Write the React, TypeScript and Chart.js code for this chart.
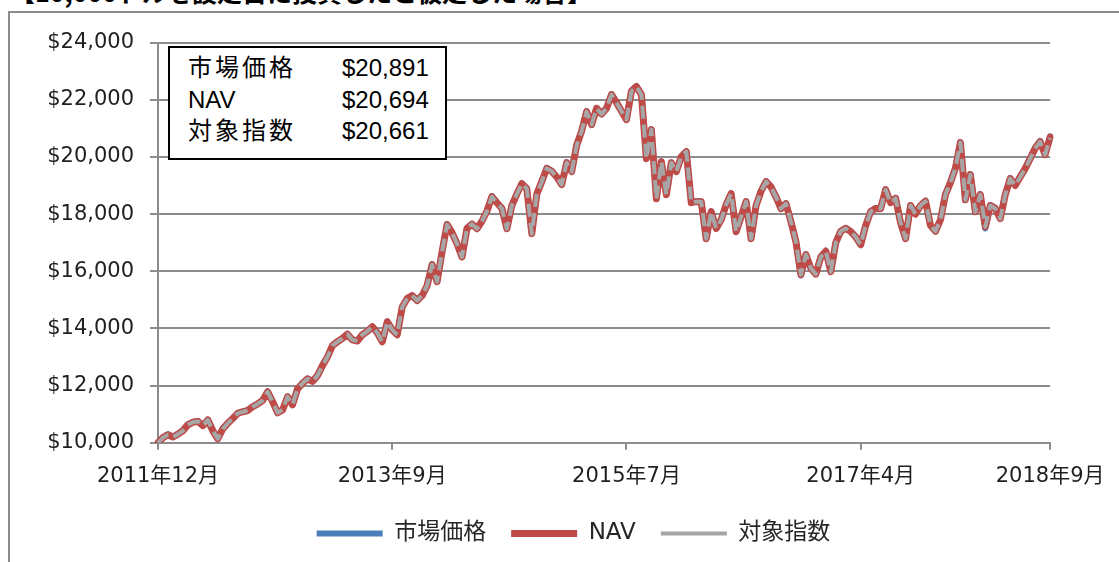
import { useEffect, useRef } from 'react';
import { Chart, registerables } from 'chart.js';

Chart.register(...registerables);

const seriesNames = ['市場価格', 'NAV', '対象指数'];
const finalValueLabels = ['$20,891', '$20,694', '$20,661'];
const titleText = '【10,000ドルを設定日に投資したと仮定した場合】';

const xTickIndex = [0, 47, 94, 141, 179];
const xTickLabels = ['2011年12月', '2013年9月', '2015年7月', '2017年4月', '2018年9月'];

const yMin = 10000;
const yMax = 24000;
const yStep = 2000;

const navValues = [
  10000, 10180, 10280, 10200, 10300, 10420, 10630, 10720, 10750, 10600,
  10800, 10420, 10140, 10490, 10680, 10850, 11030, 11085, 11130, 11260,
  11360, 11480, 11785, 11435, 11050, 11150, 11610, 11330, 11890, 12080,
  12240, 12150, 12350, 12700, 13000, 13400, 13535, 13650, 13800, 13600,
  13560, 13780, 13900, 14060, 13850, 13535, 14235, 13950, 13780, 14750,
  15050, 15150, 14980, 15150, 15500, 16230, 15635, 16685, 17630, 17350,
  16965, 16500, 17500, 17650, 17490, 17750, 18100, 18610, 18400, 18200,
  17490, 18300, 18700, 19065, 18890, 17315, 18700, 19135, 19600, 19500,
  19300, 19030, 19800, 19485, 20400, 20900, 21585, 21130, 21700, 21500,
  21700, 22180, 21900, 21600, 21305, 22300, 22460, 22180, 19940, 20955,
  18540, 19835, 18680, 19800, 19485, 20010, 20185, 18400, 18435, 18435,
  17140, 18085, 17500, 17800, 18330, 18715, 17385, 17900, 18435, 17140,
  18300, 18800, 19135, 18950, 18600, 18190, 18365, 17735, 17035, 15880,
  16580, 16100, 15900, 16500, 16700, 15985, 17000, 17400, 17500, 17385,
  17200, 16930, 17600, 18085, 18200, 18190, 18855, 18400, 18550, 17700,
  17140, 18300, 18000, 18300, 18450, 17600, 17400, 17800, 18680, 19100,
  19600, 20500, 18500, 19380, 18085, 18680, 17560, 18300, 18200, 17840,
  18680, 19240, 19000, 19300, 19590, 19940, 20300, 20535, 20080, 20694,
];

const marketValues = [
  10000, 10190, 10300, 10210, 10320, 10440, 10650, 10730, 10760, 10610,
  10810, 10430, 10150, 10500, 10690, 10860, 11040, 11100, 11140, 11270,
  11370, 11490, 11800, 11440, 11060, 11160, 11620, 11340, 11900, 12090,
  12250, 12160, 12360, 12710, 13010, 13410, 13550, 13660, 13810, 13610,
  13570, 13790, 13910, 14070, 13860, 13540, 14250, 13960, 13790, 14760,
  15060, 15160, 14990, 15160, 15510, 16250, 15650, 16700, 17650, 17360,
  16980, 16510, 17510, 17660, 17500, 17760, 18110, 18630, 18410, 18210,
  17500, 18310, 18710, 19080, 18900, 17330, 18710, 19150, 19620, 19510,
  19310, 19040, 19810, 19500, 20420, 20920, 21600, 21140, 21720, 21510,
  21720, 22200, 21910, 21610, 21320, 22320, 22480, 22190, 19960, 20970,
  18560, 19850, 18690, 19810, 19500, 20020, 20200, 18410, 18450, 18450,
  17150, 18100, 17510, 17810, 18340, 18730, 17400, 17910, 18450, 17150,
  18310, 18810, 19150, 18960, 18610, 18200, 18380, 17750, 17050, 15850,
  16600, 16110, 15910, 16520, 16720, 15990, 17010, 17410, 17520, 17400,
  17210, 16940, 17610, 18100, 18210, 18200, 18870, 18410, 18570, 17710,
  17150, 18310, 18010, 18310, 18470, 17610, 17410, 17810, 18700, 19120,
  19620, 20520, 18520, 19400, 18100, 18700, 17500, 18320, 18220, 17860,
  18700, 19260, 19020, 19320, 19610, 19960, 20330, 20560, 20100, 20720,
];

const indexValues = [
  10000, 10180, 10280, 10200, 10300, 10420, 10630, 10720, 10750, 10600,
  10800, 10420, 10140, 10490, 10680, 10850, 11030, 11085, 11130, 11260,
  11360, 11480, 11785, 11435, 11050, 11150, 11610, 11330, 11890, 12080,
  12240, 12150, 12350, 12700, 13000, 13400, 13535, 13650, 13800, 13600,
  13560, 13780, 13900, 14060, 13850, 13535, 14235, 13950, 13780, 14750,
  15050, 15150, 14980, 15150, 15500, 16230, 15635, 16685, 17630, 17350,
  16965, 16500, 17500, 17650, 17490, 17750, 18100, 18610, 18400, 18200,
  17490, 18300, 18700, 19065, 18890, 17315, 18700, 19135, 19600, 19500,
  19300, 19030, 19800, 19485, 20400, 20900, 21585, 21130, 21700, 21500,
  21700, 22180, 21900, 21600, 21305, 22300, 22460, 22180, 19940, 20955,
  18540, 19835, 18680, 19800, 19485, 20010, 20185, 18400, 18435, 18435,
  17140, 18085, 17500, 17800, 18330, 18715, 17385, 17900, 18435, 17140,
  18300, 18800, 19135, 18950, 18600, 18190, 18365, 17735, 17035, 15880,
  16580, 16100, 15900, 16500, 16700, 15985, 17000, 17400, 17500, 17385,
  17200, 16930, 17600, 18085, 18200, 18190, 18855, 18400, 18550, 17700,
  17140, 18300, 18000, 18300, 18450, 17600, 17400, 17800, 18680, 19100,
  19600, 20500, 18500, 19380, 18085, 18680, 17560, 18300, 18200, 17840,
  18680, 19240, 19000, 19300, 19590, 19940, 20300, 20535, 20080, 20661,
];

const periods = navValues.map((_, i) => `P${i}`);

const gridColor = '#8c8c8c';
const textColor = '#1f1f1f';
const axisFont = { family: "'DejaVu Sans', 'Noto Sans CJK JP', sans-serif", size: 21 };

const legendShift = {
  id: 'legendShift',
  afterLayout(chart: any) {
    const lg = chart.legend;
    if (!lg) return;
    lg.left += 42;
    lg.right += 42;
    lg.top -= 7;
    lg.bottom -= 7;
  },
};

export default function App() {
  const canvasRef = useRef<HTMLCanvasElement | null>(null);

  useEffect(() => {
    const canvas = canvasRef.current;
    if (!canvas) return;
    const chart = new Chart(canvas, {
      type: 'line',
      data: {
        labels: periods,
        datasets: [
          {
            label: seriesNames[0],
            data: marketValues,
            borderColor: '#4a7ebb',
            backgroundColor: '#4a7ebb',
            borderWidth: 6,
            pointRadius: 0,
            tension: 0,
            borderCapStyle: 'round',
            borderJoinStyle: 'round',
            order: 3,
          },
          {
            label: seriesNames[1],
            data: navValues,
            borderColor: '#be4b48',
            backgroundColor: '#be4b48',
            borderWidth: 7,
            pointRadius: 0,
            tension: 0,
            borderCapStyle: 'round',
            borderJoinStyle: 'round',
            order: 2,
          },
          {
            label: seriesNames[2],
            data: indexValues,
            borderColor: '#a6a6a6',
            backgroundColor: '#a6a6a6',
            borderWidth: 4,
            borderDash: [13, 6],
            pointRadius: 0,
            tension: 0,
            borderJoinStyle: 'round',
            order: 1,
          },
        ],
      },
      options: {
        responsive: false,
        animation: false,
        devicePixelRatio: 1,
        layout: { padding: { left: 0, top: 27, right: 66, bottom: 0 } },
        plugins: {
          title: { display: false },
          tooltip: { enabled: false },
          legend: {
            position: 'bottom',
            labels: {
              usePointStyle: true,
              pointStyle: 'line',
              pointStyleWidth: 66,
              boxHeight: 23,
              padding: 25,
              color: '#262626',
              font: { family: "'DejaVu Sans', 'Noto Sans CJK JP', sans-serif", size: 23 },
              sort: (a: any, b: any) => a.datasetIndex - b.datasetIndex,
            },
          },
        },
        scales: {
          x: {
            type: 'category',
            grid: {
              display: true,
              drawOnChartArea: false,
              drawTicks: true,
              tickLength: 7,
              color: gridColor,
              lineWidth: 2,
            },
            border: { display: true, color: gridColor, width: 2 },
            afterBuildTicks: (scale: any) => {
              scale.ticks = xTickIndex.map((v) => ({ value: v }));
            },
            ticks: {
              autoSkip: false,
              maxRotation: 0,
              minRotation: 0,
              padding: 14.5,
              color: textColor,
              font: axisFont,
              callback: (value: any) => {
                const k = xTickIndex.indexOf(Number(value));
                return k >= 0 ? xTickLabels[k] : null;
              },
            },
          },
          y: {
            min: yMin,
            max: yMax,
            afterFit: (scale: any) => {
              scale.width = 148;
            },
            grid: {
              color: gridColor,
              lineWidth: 2,
              drawTicks: true,
              tickLength: 8,
            },
            border: { display: true, color: gridColor, width: 2 },
            ticks: {
              stepSize: yStep,
              padding: 16,
              color: textColor,
              font: axisFont,
              callback: (value: any) => '$' + Number(value).toLocaleString('en-US'),
            },
          },
        },
      },
      plugins: [legendShift],
    });
    return () => chart.destroy();
  }, []);

  const boxFont = "'Liberation Sans', 'Noto Sans CJK JP', sans-serif";

  return (
    <div style={{ position: 'fixed', left: 0, top: 0, width: 1119, height: 562, overflow: 'hidden', background: '#fff' }}>
      <div
        style={{
          position: 'absolute',
          left: 10,
          top: -21,
          fontFamily: "'Noto Sans CJK JP', sans-serif",
          fontWeight: 700,
          fontSize: 25,
          lineHeight: '25px',
          whiteSpace: 'nowrap',
          color: '#000',
        }}
      >
        {titleText}
      </div>
      <div
        style={{
          position: 'absolute',
          left: 8,
          top: 11,
          width: 1200,
          height: 600,
          borderLeft: `2px solid ${gridColor}`,
          borderTop: `2px solid ${gridColor}`,
        }}
      />
      <canvas
        ref={canvasRef}
        width={1109}
        height={548}
        style={{ position: 'absolute', left: 10, top: 14, width: 1109, height: 548 }}
      />
      <div
        style={{
          position: 'absolute',
          left: 168,
          top: 46,
          width: 275,
          height: 110,
          border: '2px solid #000',
          background: '#fff',
          fontFamily: boxFont,
          fontSize: 24,
          color: '#000',
        }}
      >
        {seriesNames.map((name, i) => (
          <div key={name} style={{ position: 'absolute', left: 0, top: 5 + i * 31.5, height: 30, lineHeight: '30px', width: 275 }}>
            <span style={{ position: 'absolute', left: 18, letterSpacing: name === 'NAV' ? 0 : 3, whiteSpace: 'nowrap' }}>{name}</span>
            <span style={{ position: 'absolute', left: 172, whiteSpace: 'nowrap' }}>{finalValueLabels[i]}</span>
          </div>
        ))}
      </div>
    </div>
  );
}
